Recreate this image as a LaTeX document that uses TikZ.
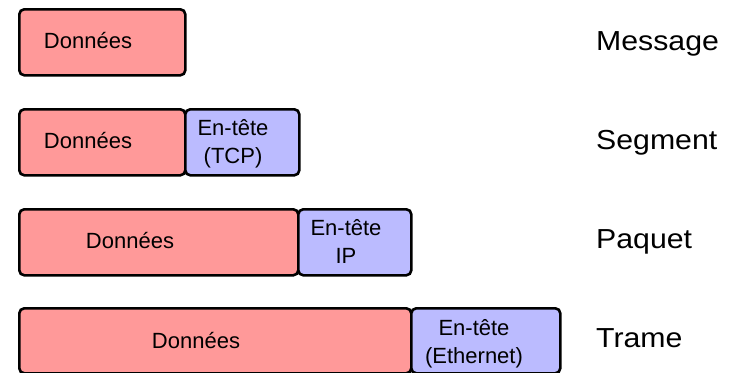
\documentclass[tikz,border=0pt]{standalone}
\usepackage{fontspec}
\setmainfont{Liberation Sans}
\newfontfamily\lblfont[FakeStretch=1.1]{Liberation Sans}
\definecolor{datafill}{RGB}{255,153,153}
\definecolor{headfill}{RGB}{187,187,255}
\begin{document}
\begin{tikzpicture}[x=1pt,y=-1pt,
  boxbase/.style={draw=black, line width=2.6pt, rounded corners=5pt, inner sep=0pt, anchor=north west},
  databox/.style={boxbase, fill=datafill},
  headbox/.style={boxbase, fill=headfill},
  txt/.style={inner sep=0pt, font=\fontsize{22}{28}\selectfont, align=center},
  lbl/.style={inner sep=0pt, anchor=base west, font=\lblfont\fontsize{27.5}{32}\selectfont}]
\useasboundingbox (0,0) rectangle (733,372);
% Row 1
\node[databox, minimum width=166pt, minimum height=66pt] (d1) at (18,8) {};
% Row 2
\node[databox, minimum width=166pt, minimum height=66pt] (d2) at (18,108) {};
\node[headbox, minimum width=114pt, minimum height=66pt] (h2) at (184,108) {};
% Row 3
\node[databox, minimum width=279pt, minimum height=66pt] (d3) at (18,208) {};
\node[headbox, minimum width=113pt, minimum height=66pt] (h3) at (297,208) {};
% Row 4
\node[databox, minimum width=392pt, minimum height=65pt] (d4) at (18,307) {};
\node[headbox, minimum width=149pt, minimum height=65pt] (h4) at (410,307) {};
% texts
\node[txt] (t1) at (88,41) {Données};
\node[txt] (t2) at (88,141) {Données};
\node[txt] (t3) at (130,241) {Données};
\node[txt] (t4) at (196,341) {Données};
\node[txt] (e2) at (233,143.5) {En-tête\\(TCP)};
\node[txt] (e3) at (346,241) {En-tête\\IP};
\node[txt] (e4) at (474,343.5) {En-tête\\(Ethernet)};
% labels
\node[lbl] (l1) at (596,50) {Message};
\node[lbl] (l2) at (596,149.5) {Segment};
\node[lbl] (l3) at (596,248.5) {Paquet};
\node[lbl] (l4) at (596,347) {Trame};
\end{tikzpicture}
\end{document}
